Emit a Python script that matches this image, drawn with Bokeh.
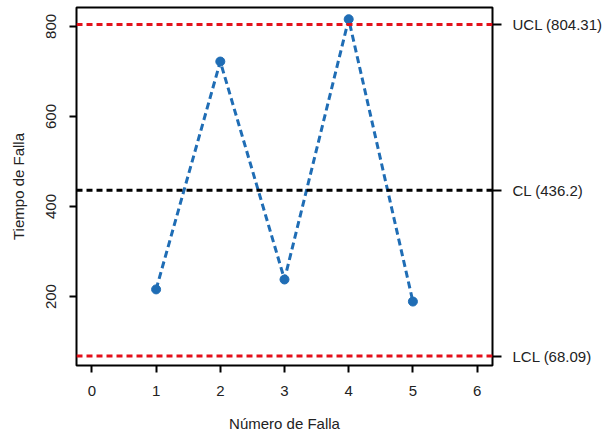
from bokeh.plotting import figure
from bokeh.models import LinearAxis, FixedTicker, Range1d, Span
from bokeh.embed import file_html
from bokeh.resources import INLINE

falla = [1, 2, 3, 4, 5]
tiempo = [216, 722, 238, 816, 189]
ucl, cl, lcl = 804.31, 436.2, 68.09
x_ticks = [0, 1, 2, 3, 4, 5, 6]
y_ticks = [200, 400, 600, 800]
limit_labels = {ucl: "UCL (804.31)", cl: "CL (436.2)", lcl: "LCL (68.09)"}

FONT = "Liberation Sans"
FS = "15px"

p = figure(width=606, height=438, output_backend="svg", toolbar_location=None,
           x_range=Range1d(-0.24, 6.24), y_range=Range1d(47, 842),
           frame_width=416, frame_height=358,
           min_border_left=76, min_border_right=114, min_border_top=7, min_border_bottom=73)
p.grid.visible = False
p.outline_line_color = "black"
p.outline_line_width = 2
p.background_fill_color = "white"
p.border_fill_color = "white"

for ax in (p.xaxis[0], p.yaxis[0]):
    ax.axis_line_color = None
    ax.major_tick_line_color = "black"
    ax.major_tick_line_width = 2
    ax.major_tick_out = 7
    ax.major_tick_in = 0
    ax.minor_tick_line_color = None
    ax.major_label_text_font = FONT
    ax.major_label_text_font_size = FS
    ax.major_label_text_color = "#222222"
    ax.axis_label_text_font = FONT
    ax.axis_label_text_font_size = FS
    ax.axis_label_text_font_style = "normal"
    ax.axis_label_text_color = "#222222"

p.xaxis.ticker = FixedTicker(ticks=x_ticks)
p.yaxis.ticker = FixedTicker(ticks=y_ticks)
p.xaxis.axis_label = "Número de Falla"
p.yaxis.axis_label = "Tiempo de Falla"
p.yaxis.major_label_orientation = "vertical"
p.xaxis.major_label_standoff = 13
p.xaxis.axis_label_standoff = 16
p.yaxis.major_label_standoff = 13
p.yaxis.axis_label_standoff = 17

for val, col in ((ucl, "#e3111b"), (lcl, "#e3111b"), (cl, "black")):
    p.add_layout(Span(location=val, dimension="width", line_color=col,
                      line_width=3, line_dash="6 4"))

p.line(falla, tiempo, line_color="#1f6db5", line_width=3, line_dash="7 4")
p.scatter(falla, tiempo, size=9, color="#1f6db5")

ra = LinearAxis(ticker=FixedTicker(ticks=list(limit_labels.keys())),
                major_label_overrides=limit_labels)
ra.axis_line_color = None
ra.major_tick_line_color = "black"
ra.major_tick_line_width = 2
ra.major_tick_out = 9
ra.major_tick_in = 0
ra.minor_tick_line_color = None
ra.major_label_text_font = FONT
ra.major_label_text_font_size = FS
ra.major_label_text_color = "#222222"
ra.major_label_standoff = 11
p.add_layout(ra, "right")

open("out.html", "w").write(file_html(p, INLINE))
